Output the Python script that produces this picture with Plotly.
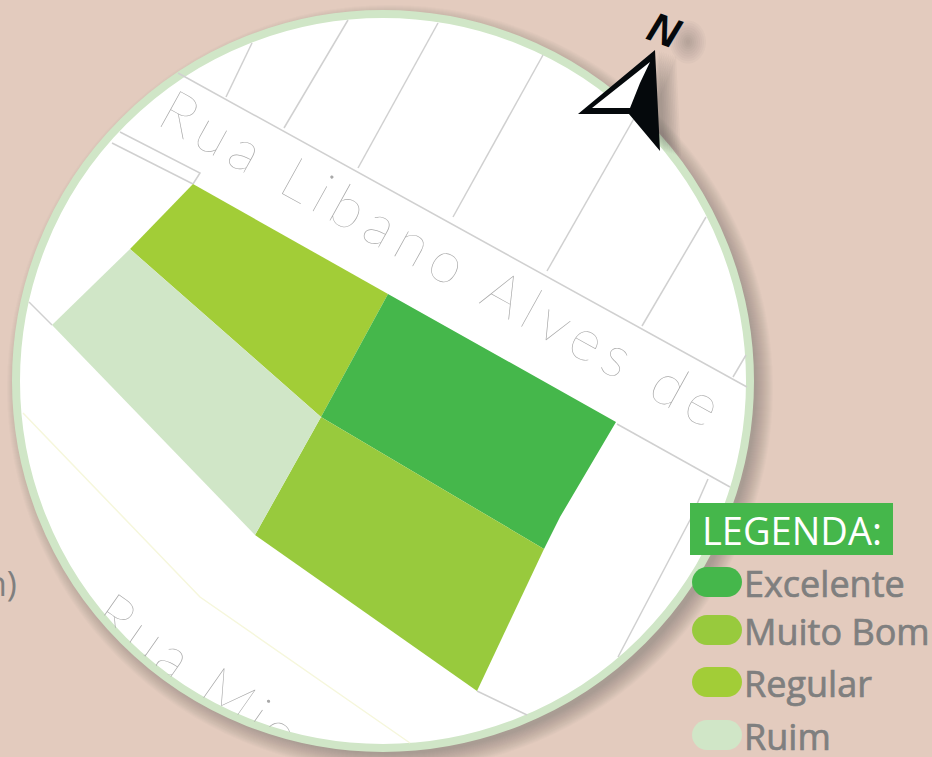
import plotly.graph_objects as go

# ---- data (image pixel coordinates) ----
BG = "#e3cbbe"
lot_names = ["Regular", "Excelente", "Muito Bom", "Ruim"]
lot_colors = ["#a2cd37", "#45b74b", "#98ca3d", "#d0e6c7"]
lot_x = [
    [193, 388, 321, 130],
    [388, 616, 560, 544, 321],
    [321, 544, 477, 255],
    [130, 321, 255, 52],
]
lot_y = [
    [184, 294, 417, 249],
    [294, 422, 517, 549, 417],
    [417, 549, 691, 535],
    [249, 417, 535, 325],
]
grey_segments = [
    [(178, 73), (747, 387)],
    [(252, 43), (226, 97)],
    [(348, 20), (284, 128)],
    [(438, 23), (358, 168)],
    [(543, 55), (453, 217)],
    [(640, 108), (547, 271)],
    [(706, 217), (642, 326)],
    [(746, 355), (733, 377)],
    [(617, 424), (730, 487)],
    [(708, 479), (690, 520), (618, 657)],
    [(477, 691), (527, 715)],
    [(120, 132), (200, 173), (193, 184)],
    [(112, 143), (193, 184)],
    [(29, 302), (52, 325)],
]
yellow_x = [23, 200, 410]
yellow_y = [413, 597, 743]

arrow_outer_x = [655, 578, 629, 660]
arrow_outer_y = [50, 114, 114, 151]
arrow_inner_x = [650, 592, 630, 640]
arrow_inner_y = [62, 108, 108, 83]

legend_title = "LEGENDA:"
legend_labels = ["Excelente", "Muito Bom", "Regular", "Ruim"]
legend_colors = ["#45b74b", "#98ca3d", "#a2cd37", "#d0e6c7"]
legend_y = [582, 630, 682, 735]

circle_cx, circle_cy, circle_r = 383, 381, 367
street_1 = "Rua Libano Alves de"
street_2 = "Rua Mic"

# ---- figure ----
fig = go.Figure()

shapes = []
# soft shadow of the round frame
for grow in range(14, -4, -1):
    r = circle_r + 2 + grow
    cx, cy = circle_cx + 7, circle_cy + 7
    shapes.append(dict(type="circle", xref="x", yref="y", x0=cx - r, x1=cx + r, y0=cy - r, y1=cy + r,
                       fillcolor="rgba(95,85,80,0.024)", line_width=0, layer="below"))
shapes.append(dict(type="circle", xref="x", yref="y",
                   x0=circle_cx - circle_r, x1=circle_cx + circle_r,
                   y0=circle_cy - circle_r, y1=circle_cy + circle_r,
                   fillcolor="white", line=dict(color="#d0e6c7", width=8), layer="below"))

# shadow of the north mark
for i in range(1, 11):
    xs = [v + 3 + 1.8 * i for v in arrow_outer_x[2:] + arrow_outer_x[:1]]
    ys = [v + 0.6 * i for v in arrow_outer_y[2:] + arrow_outer_y[:1]]
    fig.add_trace(go.Scatter(x=xs, y=ys, mode="lines", fill="toself", line_width=0,
                             fillcolor="rgba(70,60,60,0.045)", hoverinfo="skip", showlegend=False))
for r in range(18, 0, -2):
    shapes.append(dict(type="circle", xref="x", yref="y", x0=688 - r, x1=688 + r, y0=42 - r * 1.2, y1=42 + r * 1.2,
                       fillcolor="rgba(70,60,60,0.03)", line_width=0, layer="below"))

# thin drawing lines
gx, gy = [], []
for seg in grey_segments:
    for px, py in seg:
        gx.append(px)
        gy.append(py)
    gx.append(None)
    gy.append(None)
fig.add_trace(go.Scatter(x=gx, y=gy, mode="lines", line=dict(color="#d0d0d0", width=1.5),
                         hoverinfo="skip", showlegend=False))
fig.add_trace(go.Scatter(x=yellow_x, y=yellow_y, mode="lines", line=dict(color="#f6f7dc", width=1.5),
                         hoverinfo="skip", showlegend=False))

# lots
for name, color, xs, ys in zip(lot_names, lot_colors, lot_x, lot_y):
    fig.add_trace(go.Scatter(x=xs, y=ys, name=name, mode="lines", fill="toself", fillcolor=color,
                             line=dict(width=0, color=color), hoverinfo="name", showlegend=False))

# north arrow
fig.add_trace(go.Scatter(x=arrow_outer_x, y=arrow_outer_y, mode="lines", fill="toself", fillcolor="#05090c",
                         line=dict(width=0), hoverinfo="skip", showlegend=False))
fig.add_trace(go.Scatter(x=arrow_inner_x, y=arrow_inner_y, mode="lines", fill="toself", fillcolor="white",
                         line=dict(width=0), hoverinfo="skip", showlegend=False))

# legend box and chips
shapes.append(dict(type="rect", xref="x", yref="y", x0=690, x1=893, y0=503, y1=555,
                   fillcolor="#45b74b", line_width=0, layer="above"))
for yc, color in zip(legend_y, legend_colors):
    x0, x1, h = 692, 742, 15
    k = h * 0.55
    path = (f"M {x0 + h},{yc - h} L {x1 - h},{yc - h} "
            f"C {x1 - h + k},{yc - h} {x1},{yc - k} {x1},{yc} "
            f"C {x1},{yc + k} {x1 - h + k},{yc + h} {x1 - h},{yc + h} "
            f"L {x0 + h},{yc + h} "
            f"C {x0 + h - k},{yc + h} {x0},{yc + k} {x0},{yc} "
            f"C {x0},{yc - k} {x0 + h - k},{yc - h} {x0 + h},{yc - h} Z")
    shapes.append(dict(type="path", xref="x", yref="y", path=path, fillcolor=color, line_width=0, layer="above"))

annotations = [
    dict(x=445, y=258, text=f'<span style="letter-spacing:7.5px">{street_1}</span>', textangle=29,
         font=dict(family="Lato", size=58, color="#a8a8a8", weight=100)),
    dict(x=199, y=672, text=f'<span style="letter-spacing:5px">{street_2}</span>', textangle=35,
         font=dict(family="Lato", size=58, color="#a8a8a8", weight=100)),
    dict(x=665, y=30, text="<b><i>N</i></b>", textangle=20,
         font=dict(family="Liberation Sans", size=42, color="#05090c")),
    dict(x=792, y=530, text=legend_title, font=dict(family="Open Sans", size=38, color="white")),
    dict(x=19, y=583, text="n)", xanchor="right", font=dict(family="Open Sans", size=34, color="#7f7f7f")),
]
for label, yc in zip(legend_labels, legend_y):
    annotations.append(dict(x=742, y=yc + 1,
                            text=f'<span style="stroke:#7f7f7f;stroke-width:0.7px">{label}</span>',
                            xanchor="left",
                            font=dict(family="Open Sans", size=36, color="#7f7f7f")))
for a in annotations:
    a.update(xref="x", yref="y", showarrow=False)
    a.setdefault("xanchor", "center")
    a.setdefault("yanchor", "middle")

fig.update_layout(
    width=932, height=757, margin=dict(l=0, r=0, t=0, b=0),
    paper_bgcolor=BG, plot_bgcolor=BG,
    shapes=shapes, annotations=annotations, showlegend=False,
    xaxis=dict(range=[0, 932], visible=False, fixedrange=True),
    yaxis=dict(range=[757, 0], visible=False, fixedrange=True),
)

post = f"""
document.body.style.margin = '0';
document.documentElement.style.overflow = 'hidden';
var gd = document.getElementById('{{plot_id}}');
var svgs = gd.querySelectorAll('svg.main-svg');
var ns = 'http://www.w3.org/2000/svg';
svgs.forEach(function (svg) {{
  var anns = svg.querySelectorAll('.annotation');
  if (!anns.length) return;
  var defs = svg.querySelector('defs') || svg.insertBefore(document.createElementNS(ns, 'defs'), svg.firstChild);
  var cp = document.createElementNS(ns, 'clipPath');
  cp.setAttribute('id', 'round-frame');
  var c = document.createElementNS(ns, 'circle');
  c.setAttribute('cx', '{circle_cx}'); c.setAttribute('cy', '{circle_cy}'); c.setAttribute('r', '{circle_r - 3}');
  cp.appendChild(c); defs.appendChild(cp);
  anns.forEach(function (g) {{
    if (g.textContent.indexOf('Rua') === 0) g.setAttribute('clip-path', 'url(#round-frame)');
  }});
}});
"""
fig.write_html("out.html", post_script=post, config=dict(displayModeBar=False))
